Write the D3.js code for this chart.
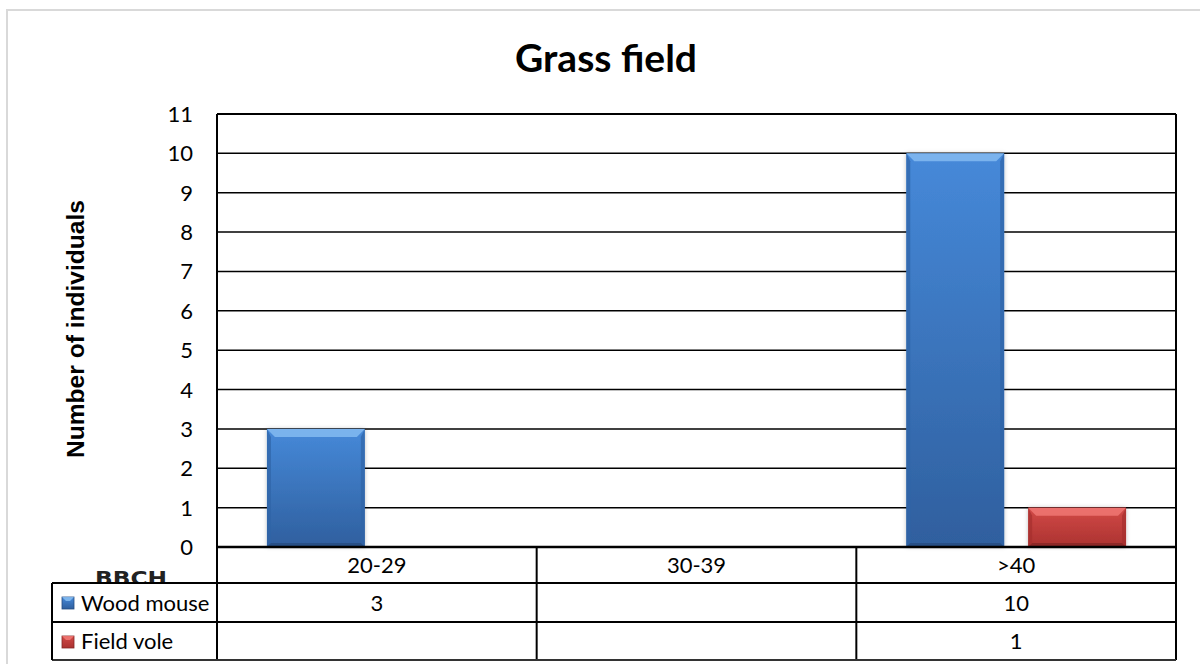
<!DOCTYPE html>
<html>
<head>
<meta charset="utf-8">
<script src="https://cdn.jsdelivr.net/npm/d3@7"></script>
<style>
  html, body { margin: 0; padding: 0; background: #fff; }
  svg { display: block; }
</style>
</head>
<body>
<svg id="chart" width="1200" height="664"></svg>
<script>
// Chart data
const categories = ["20-29", "30-39", ">40"];
const seriesNames = ["Wood mouse", "Field vole"];
const woodMouse = [3, null, 10];
const fieldVole = [null, null, 1];
const yTicks = [0, 1, 2, 3, 4, 5, 6, 7, 8, 9, 10, 11];
const chartTitle = "Grass field";
const yTitle = "Number of individuals";
const tableHeader = "BBCH";

const seriesValues = [woodMouse, fieldVole];

const svg = d3.select("#chart");

// Layout
const plot = { left: 217, right: 1176, top: 114, bottom: 547 };
const table = { left: 52, catBottom: 583, row1Bottom: 622, row2Bottom: 660 };

const x0 = d3.scaleBand().domain(categories).range([plot.left, plot.right]).padding(0);
const x1 = d3.scaleBand().domain(seriesNames).range([0, x0.bandwidth()])
  .paddingInner(0.197).paddingOuter(0.41);
const y = d3.scaleLinear().domain([0, 11]).range([plot.bottom, plot.top]);

const fontMain = "Lato, 'Open Sans', sans-serif";
const labelSize = 22;

// Gradients for the bevelled bars
const defs = svg.append("defs");
const palettes = [
  { id: "blue", top: "#4689d9", bottom: "#2f5f9e", light: "#8cc2f4", side: "#2f64a6", dark: "#254b80" },
  { id: "red", top: "#d24a47", bottom: "#ab3230", light: "#f47d79", side: "#a52f2d", dark: "#842624" }
];
palettes.forEach(p => {
  const g = defs.append("linearGradient").attr("id", "grad-" + p.id)
    .attr("x1", 0).attr("y1", 0).attr("x2", 0).attr("y2", 1);
  g.append("stop").attr("offset", "0%").attr("stop-color", p.top);
  g.append("stop").attr("offset", "100%").attr("stop-color", p.bottom);
});
const shadow = defs.append("filter").attr("id", "barShadow")
  .attr("x", "-10%").attr("y", "-10%").attr("width", "120%").attr("height", "120%");
shadow.append("feDropShadow").attr("dx", 0).attr("dy", 0).attr("stdDeviation", 2)
  .attr("flood-color", "#000").attr("flood-opacity", 0.25);

// Outer chart border
svg.append("rect").attr("x", 7).attr("y", 10).attr("width", 1220).attr("height", 700)
  .attr("fill", "#fff").attr("stroke", "#d9d9d9").attr("stroke-width", 2);

// Title
svg.append("text").text(chartTitle)
  .attr("x", 606).attr("y", 72).attr("text-anchor", "middle")
  .attr("font-family", "Lato, 'Open Sans', sans-serif").attr("font-weight", "bold")
  .attr("font-size", 38).attr("fill", "#000")
  .attr("textLength", 182).attr("lengthAdjust", "spacingAndGlyphs");

// Y axis title
svg.append("text").text(yTitle)
  .attr("transform", "translate(84,329) rotate(-90)")
  .attr("text-anchor", "middle")
  .attr("font-family", "'Liberation Sans', Arial, sans-serif").attr("font-weight", "bold")
  .attr("font-size", 23).attr("fill", "#000")
  .attr("textLength", 258).attr("lengthAdjust", "spacingAndGlyphs");

// Gridlines
svg.append("g").selectAll("line").data(yTicks.filter(t => t > 0 && t < 11)).join("line")
  .attr("x1", plot.left).attr("x2", plot.right)
  .attr("y1", d => y(d)).attr("y2", d => y(d))
  .attr("stroke", "#000").attr("stroke-width", 1.5);

// Y tick labels
svg.append("g").attr("font-family", fontMain).attr("fill", "#000")
  .selectAll("text").data(yTicks).join("text")
  .attr("x", 193).attr("y", d => y(d) + 8)
  .attr("text-anchor", "end").attr("font-size", labelSize)
  .text(d => d);

// BBCH header, its lower edge tucked under the table row
svg.append("text").text(tableHeader)
  .attr("x", 131).attr("y", 585).attr("text-anchor", "middle")
  .attr("font-family", "'DejaVu Sans', Verdana, sans-serif").attr("font-weight", "bold")
  .attr("font-size", 20).attr("fill", "#222")
  .attr("textLength", 72).attr("lengthAdjust", "spacingAndGlyphs");

// Table cell backgrounds
svg.append("rect").attr("x", table.left).attr("y", table.catBottom)
  .attr("width", plot.right - table.left).attr("height", table.row2Bottom - table.catBottom)
  .attr("fill", "#fff");

// Bars
const barsG = svg.append("g");
categories.forEach((cat, ci) => {
  seriesNames.forEach((s, si) => {
    const v = seriesValues[si][ci];
    if (v == null) return;
    const p = palettes[si];
    const bx = x0(cat) + x1(s);
    const bw = x1.bandwidth();
    const by = y(v);
    const bh = y(0) - y(v);
    const b = Math.min(8, bh / 3);
    const g = barsG.append("g");
    g.append("rect").attr("x", bx).attr("y", by).attr("width", bw).attr("height", bh)
      .attr("fill", "url(#grad-" + p.id + ")").attr("filter", "url(#barShadow)");
    // bevel: top
    g.append("polygon")
      .attr("points", [[bx, by], [bx + bw, by], [bx + bw - b, by + b], [bx + b, by + b]].join(" "))
      .attr("fill", p.light).attr("opacity", 0.75);
    // bevel: left and right
    g.append("polygon")
      .attr("points", [[bx, by], [bx + b * 0.5, by + b], [bx + b * 0.5, by + bh - b * 0.5], [bx, by + bh]].join(" "))
      .attr("fill", p.side).attr("opacity", 0.7);
    g.append("polygon")
      .attr("points", [[bx + bw, by], [bx + bw - b * 0.5, by + b], [bx + bw - b * 0.5, by + bh - b * 0.5], [bx + bw, by + bh]].join(" "))
      .attr("fill", p.side).attr("opacity", 0.7);
    // bevel: bottom
    g.append("polygon")
      .attr("points", [[bx, by + bh], [bx + b * 0.5, by + bh - b * 0.5], [bx + bw - b * 0.5, by + bh - b * 0.5], [bx + bw, by + bh]].join(" "))
      .attr("fill", p.dark).attr("opacity", 0.8);
  });
});

// Plot frame and table lines
const lines = svg.append("g").attr("stroke", "#000").attr("fill", "none");
lines.append("line").attr("x1", plot.left).attr("x2", plot.right).attr("y1", plot.top).attr("y2", plot.top).attr("stroke-width", 2);
lines.append("line").attr("x1", plot.left).attr("x2", plot.right).attr("y1", plot.bottom).attr("y2", plot.bottom).attr("stroke-width", 2.5);
lines.append("line").attr("x1", plot.left).attr("x2", plot.left).attr("y1", plot.top).attr("y2", table.row2Bottom).attr("stroke-width", 2);
lines.append("line").attr("x1", plot.right).attr("x2", plot.right).attr("y1", plot.top).attr("y2", table.row2Bottom).attr("stroke-width", 2);
categories.slice(1).forEach(c => {
  lines.append("line").attr("x1", x0(c)).attr("x2", x0(c)).attr("y1", plot.bottom).attr("y2", table.row2Bottom).attr("stroke-width", 2);
});
[table.catBottom, table.row1Bottom].forEach(yy => {
  lines.append("line").attr("x1", table.left).attr("x2", plot.right).attr("y1", yy).attr("y2", yy).attr("stroke-width", 2);
});
lines.append("line").attr("x1", table.left).attr("x2", plot.right).attr("y1", table.row2Bottom).attr("y2", table.row2Bottom).attr("stroke-width", 2).attr("stroke", "#333");
lines.append("line").attr("x1", table.left).attr("x2", table.left).attr("y1", table.catBottom).attr("y2", table.row2Bottom).attr("stroke-width", 2);

// Category labels
svg.append("g").selectAll("text").data(categories).join("text")
  .attr("x", d => x0(d) + x0.bandwidth() / 2).attr("y", 573)
  .attr("text-anchor", "middle").attr("font-family", fontMain).attr("font-size", labelSize)
  .text(d => d);

// Table rows: legend key, series name and values
const rowBaselines = [611, 649];
const rowTops = [table.catBottom, table.row1Bottom];
seriesNames.forEach((s, si) => {
  const p = palettes[si];
  const ky = rowTops[si] + 14;
  svg.append("rect").attr("x", 62).attr("y", ky).attr("width", 12).attr("height", 12)
    .attr("fill", "url(#grad-" + p.id + ")").attr("stroke", p.dark).attr("stroke-width", 0.8);
  svg.append("polygon")
    .attr("points", [[62, ky], [74, ky], [70, ky + 4], [66, ky + 4]].join(" "))
    .attr("fill", p.light).attr("opacity", 0.8);
  svg.append("text").text(s).attr("x", 81).attr("y", rowBaselines[si])
    .attr("font-family", fontMain).attr("font-size", labelSize).attr("fill", "#000");
  svg.append("g").selectAll("text")
    .data(categories.map((c, ci) => ({ c, v: seriesValues[si][ci] })).filter(d => d.v != null))
    .join("text")
    .attr("x", d => x0(d.c) + x0.bandwidth() / 2).attr("y", rowBaselines[si])
    .attr("text-anchor", "middle").attr("font-family", fontMain).attr("font-size", labelSize)
    .text(d => d.v);
});
</script>
</body>
</html>
